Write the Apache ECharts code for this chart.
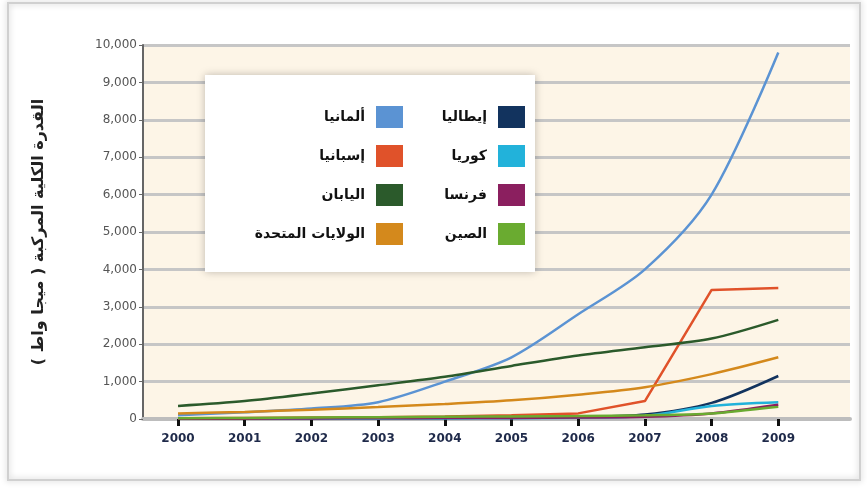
<!DOCTYPE html>
<html>
<head>
<meta charset="utf-8">
<script src="https://cdn.jsdelivr.net/npm/echarts@6/dist/echarts.min.js"></script>
<style>
  html, body { margin: 0; padding: 0; background: #fff; }
  #chart { width: 867px; height: 488px; }
</style>
</head>
<body>
<div id="chart"></div>
<script>
// السنوات
var years = [2000, 2001, 2002, 2003, 2004, 2005, 2006, 2007, 2008, 2009];
// القيم (ميجا واط) مقروءة من الصورة
var germany = [100, 180, 280, 450, 1000, 1650, 2800, 4000, 6000, 9800];
var spain   = [20, 30, 40, 50, 70, 100, 150, 480, 3450, 3500];
var japan   = [350, 480, 680, 900, 1130, 1420, 1700, 1920, 2150, 2650];
var usa     = [150, 190, 250, 320, 400, 500, 650, 850, 1200, 1650];
var italy   = [20, 20, 20, 25, 30, 40, 60, 120, 430, 1150];
var korea   = [10, 10, 10, 10, 15, 20, 35, 80, 350, 450];
var france  = [10, 10, 15, 20, 25, 30, 40, 60, 150, 380];
var china   = [20, 30, 40, 50, 60, 70, 80, 100, 150, 330];
var yTicks  = [0, 1000, 2000, 3000, 4000, 5000, 6000, 7000, 8000, 9000, 10000];

var names = {
    germany: 'ألمانيا', spain: 'إسبانيا', japan: 'اليابان', usa: 'الولايات المتحدة',
    italy: 'إيطاليا', korea: 'كوريا', france: 'فرنسا', china: 'الصين'
};

function pairs(arr) {
    return years.map(function (y, i) { return [y, arr[i]]; });
}
function line(name, arr, color, smooth) {
    return {
        name: name, type: 'line', data: pairs(arr), smooth: smooth,
        showSymbol: false, symbol: 'none',
        lineStyle: { color: color, width: 2.5 }, itemStyle: { color: color }
    };
}

var myChart = echarts.init(document.getElementById('chart'));
var option = {
    animation: false,
    textStyle: { fontFamily: 'DejaVu Sans, Noto Sans, sans-serif' },
    graphic: {
        elements: [
            { type: 'rect', z: -10, shape: { x: 8, y: 3, width: 852, height: 477 },
              style: { fill: 'none', stroke: '#d0d0d0', lineWidth: 2, shadowBlur: 6, shadowColor: 'rgba(0,0,0,0.25)' } },
            { type: 'rect', z: 1, shape: { x: 205, y: 75, width: 330, height: 197 },
              style: { fill: '#ffffff', shadowBlur: 8, shadowColor: 'rgba(0,0,0,0.25)' } }
        ]
    },
    grid: {
        left: 143, top: 45, width: 707, height: 374,
        show: true, backgroundColor: '#fdf5e7', borderWidth: 0
    },
    legend: [{
        orient: 'vertical', right: 337, top: 101, itemGap: 17, itemWidth: 27, itemHeight: 22,
        icon: 'rect', align: 'right',
        textStyle: { fontSize: 14, fontWeight: 'bold', color: '#111', padding: [0, 6, 0, 0] },
        data: [names.italy, names.korea, names.france, names.china]
    }, {
        orient: 'vertical', right: 459, top: 101, itemGap: 17, itemWidth: 27, itemHeight: 22,
        icon: 'rect', align: 'right',
        textStyle: { fontSize: 14, fontWeight: 'bold', color: '#111', padding: [0, 6, 0, 0] },
        data: [names.germany, names.spain, names.japan, names.usa]
    }],
    xAxis: {
        type: 'value', min: 1999.475, max: 2010.075,
        axisLine: { show: true, lineStyle: { color: '#bdbdbd', width: 4 } },
        axisTick: { show: true, customValues: years, length: 7, lineStyle: { color: '#111', width: 3 } },
        axisLabel: { customValues: years, margin: 14, fontSize: 12, fontWeight: 'bold', color: '#1f2a4a',
            formatter: function (v) { return String(v); } },
        splitLine: { show: false }
    },
    yAxis: {
        type: 'value', min: 0, max: 10000,
        axisLine: { show: true, lineStyle: { color: '#666', width: 2 } },
        axisTick: { show: true, customValues: yTicks, length: 4, lineStyle: { color: '#666' } },
        axisLabel: { customValues: yTicks, margin: 6, fontSize: 12, color: '#555',
            formatter: function (v) { return v.toLocaleString('en-US'); } },
        splitLine: { show: true, customValues: yTicks, lineStyle: { color: '#c6c6c6', width: 3 } },
        name: 'القدرة الكلية المركبة ( ميجا واط )',
        nameLocation: 'middle', nameGap: 96, nameRotate: 90,
        nameTextStyle: { fontSize: 16, fontWeight: 'bold', color: '#222' }
    },
    series: [
        line(names.germany, germany, '#5b93d3', 0.3),
        line(names.spain, spain, '#e0522a', false),
        line(names.japan, japan, '#2b5a2b', 0.3),
        line(names.usa, usa, '#d4891c', 0.3),
        line(names.italy, italy, '#12335e', 0.3),
        line(names.korea, korea, '#22b2da', 0.3),
        line(names.france, france, '#8b1f5f', 0.3),
        line(names.china, china, '#6aab30', 0.3)
    ]
};
myChart.setOption(option);
</script>
</body>
</html>
